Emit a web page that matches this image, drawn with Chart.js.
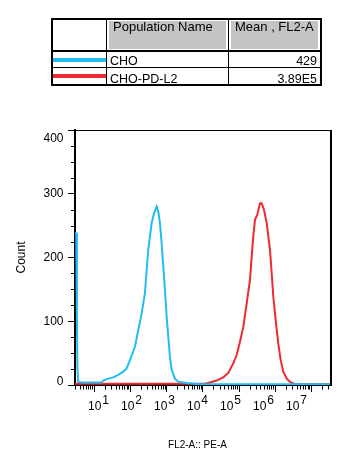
<!DOCTYPE html>
<html><head><meta charset="utf-8">
<script src="https://cdn.jsdelivr.net/npm/chart.js@4/dist/chart.umd.min.js"></script>
<style>
html,body{margin:0;padding:0;background:#fff;}
#wrap{position:relative;width:355px;height:461px;overflow:hidden;font-family:"Liberation Sans",Arial,sans-serif;}
#c{position:absolute;left:0;top:0;}
.ln{position:absolute;background:#000;}
.hd{position:absolute;background:#c4c4c4;}
.tx{position:absolute;white-space:nowrap;color:#000;line-height:16px;height:16px;}
.h{font-size:13px;}
.r{font-size:12.5px;}
</style></head>
<body><div id="wrap">
<canvas id="c" width="355" height="461"></canvas>
<div id="legend">
  <div class="hd" style="left:109px;top:21px;width:117px;height:28px"></div>
  <div class="hd" style="left:231px;top:21px;width:87px;height:28px"></div>
  <div class="ln" style="left:51px;top:18px;width:271px;height:2px"></div>
  <div class="ln" style="left:51px;top:50px;width:271px;height:2px"></div>
  <div class="ln" style="left:51px;top:67px;width:271px;height:1px"></div>
  <div class="ln" style="left:51px;top:84px;width:271px;height:2px"></div>
  <div class="ln" style="left:51px;top:18px;width:2px;height:68px"></div>
  <div class="ln" style="left:106px;top:18px;width:1px;height:68px"></div>
  <div class="ln" style="left:228px;top:18px;width:1px;height:68px"></div>
  <div class="ln" style="left:320px;top:18px;width:2px;height:68px"></div>
  <div style="position:absolute;left:53px;top:58px;width:53px;height:4px;background:#1fbdf0"></div>
  <div style="position:absolute;left:53px;top:74px;width:53px;height:4px;background:#f02a32"></div>
  <div class="tx h" style="left:113px;top:19px">Population Name</div>
  <div class="tx h" style="left:235px;top:19px">Mean , FL2-A</div>
  <div class="tx r" style="left:110px;top:53px">CHO</div>
  <div class="tx r" style="left:110px;top:70.5px">CHO-PD-L2</div>
  <div class="tx r" style="left:229px;top:53px;width:88px;text-align:right">429</div>
  <div class="tx r" style="left:229px;top:70.5px;width:88px;text-align:right">3.89E5</div>
</div>
</div>
<script>
// Histogram data: x in decades (log10 of FL2-A), y = Count
const choLog = [0.477,0.511,0.530,0.544,0.566,0.668,0.889,1.111,1.213,1.257,1.395,1.534,1.672,1.810,1.904,1.995,2.133,2.225,2.319,2.410,2.457,2.501,2.595,2.659,2.733,2.778,2.825,2.872,2.916,2.963,3.010,3.054,3.101,3.148,3.239,3.331,3.563,3.931,7.552];
const choCount = [238,238,105,27,5,4,4,4,4,7,10,12,16,21,26,39,60,86,112,144,180,212,254,269,280,272,254,222,186,149,107,76,44,24,10,5,3,1,1];
const pdl2Log = [0.477,4.069,4.207,4.392,4.575,4.713,4.851,4.945,5.036,5.128,5.222,5.313,5.360,5.404,5.451,5.515,5.589,5.636,5.700,5.775,5.866,5.913,5.957,6.032,6.095,6.162,6.234,6.328,6.419,6.494,6.557,7.552];
const pdl2Count = [2,2,4,7,12,19,34,47,68,91,128,165,201,233,259,267,285,285,275,254,212,175,139,97,65,39,21,10,5,3,1,1];
const seriesNames = ["CHO","CHO-PD-L2"];
const seriesColors = ["#1fbdf0","#f02a32"];
const yTicks = [0,100,200,300,400];
const xDecades = [1,2,3,4,5,6,7];
const FONT = '"Liberation Sans", Arial, sans-serif';

function pts(xs, ys){ return xs.map((x,i)=>({x:x, y:ys[i]})); }

const axisDeco = {
  id:'axisDeco',
  afterDraw(chart){
    const ctx = chart.ctx, ca = chart.chartArea;
    const x = chart.scales.x, y = chart.scales.y, xl = chart.scales.xl;
    const line = (x1,y1,x2,y2)=>{ctx.beginPath();ctx.moveTo(x1,y1);ctx.lineTo(x2,y2);ctx.stroke();};
    ctx.save();
    ctx.strokeStyle = '#000'; ctx.fillStyle = '#000';
    // frame top and right
    ctx.lineWidth = 1; line(ca.left, ca.top+0.5, ca.right+1, ca.top+0.5);
    ctx.lineWidth = 2; line(ca.right, ca.top, ca.right, ca.bottom+1);
    // y minor ticks
    ctx.lineWidth = 1;
    for (let v = 25; v < 400; v += 25) {
      if (v % 100 === 0) continue;
      const py = Math.round(y.getPixelForValue(v)) + 0.5;
      line(ca.left-4, py, ca.left, py);
    }
    // x log ticks
    for (let d = 0; d <= 7; d++) for (let m = 1; m <= 9; m++) {
      const v = d + Math.log10(m);
      if (v < x.min - 1e-6 || v > x.max + 1e-6) continue;
      const px = Math.round(x.getPixelForValue(v)) + 0.5;
      line(px, ca.bottom, px, ca.bottom + 1 + (m === 1 ? 6 : 3.5));
    }
    // y labels (kept inside frame like the original)
    ctx.font = '12px ' + FONT; ctx.textAlign = 'right'; ctx.textBaseline = 'middle';
    yTicks.forEach(v => {
      let py = y.getPixelForValue(v);
      py = Math.min(Math.max(py, ca.top + 9), ca.bottom - 3.3);
      ctx.fillText(String(v), 63.5, py);
    });
    // x labels 10^k
    ctx.textAlign = 'left'; ctx.textBaseline = 'alphabetic';
    const w10 = ctx.measureText('10').width;
    xDecades.forEach(k => {
      const px = xl.getPixelForValue(k);
      ctx.fillText('10', px, 410);
      ctx.fillText(String(k), px + w10 + 1, 403.5);
    });
    // x title
    ctx.font = '10px ' + FONT; ctx.textAlign = 'center';
    ctx.fillText('FL2-A:: PE-A', 197.5, 448);
    ctx.restore();
  }
};

new Chart(document.getElementById('c'), {
  type: 'line',
  data: {
    datasets: [
      {label: seriesNames[0], data: pts(choLog, choCount), xAxisID:'x', yAxisID:'y',
       borderColor: seriesColors[0], borderWidth: 2, pointRadius: 0, tension: 0, fill: false},
      {label: seriesNames[1], data: pts(pdl2Log, pdl2Count), xAxisID:'x', yAxisID:'y',
       borderColor: seriesColors[1], borderWidth: 2, pointRadius: 0, tension: 0, fill: false}
    ]
  },
  options: {
    responsive: false, animation: false, devicePixelRatio: 1,
    layout: {padding: {left: 0, top: 130, right: 24, bottom: 76}},
    plugins: {legend: {display: false}, tooltip: {enabled: false}, title: {display: false}},
    scales: {
      x: {type: 'linear', position: 'bottom', min: Math.log10(3), max: 7.552,
          ticks: {display: false}, grid: {display: false},
          border: {display: true, color: '#000', width: 2},
          afterFit: s => { s.height = 0; }},
      xl: {type: 'linear', position: 'bottom', display: false, min: 0.606, max: 8.364},
      y: {type: 'linear', position: 'left', min: 0, max: 400,
          ticks: {display: false, stepSize: 100},
          grid: {display: true, drawOnChartArea: false, drawTicks: true, tickLength: 7, color: '#000', tickColor: '#000', lineWidth: 1},
          border: {display: true, color: '#000', width: 2},
          title: {display: true, text: 'Count', color: '#000', font: {family: FONT, size: 12}, padding: {top: 14, bottom: 0}},
          afterFit: s => { s.width = 75; }}
    }
  },
  plugins: [axisDeco]
});
</script>
</body></html>
